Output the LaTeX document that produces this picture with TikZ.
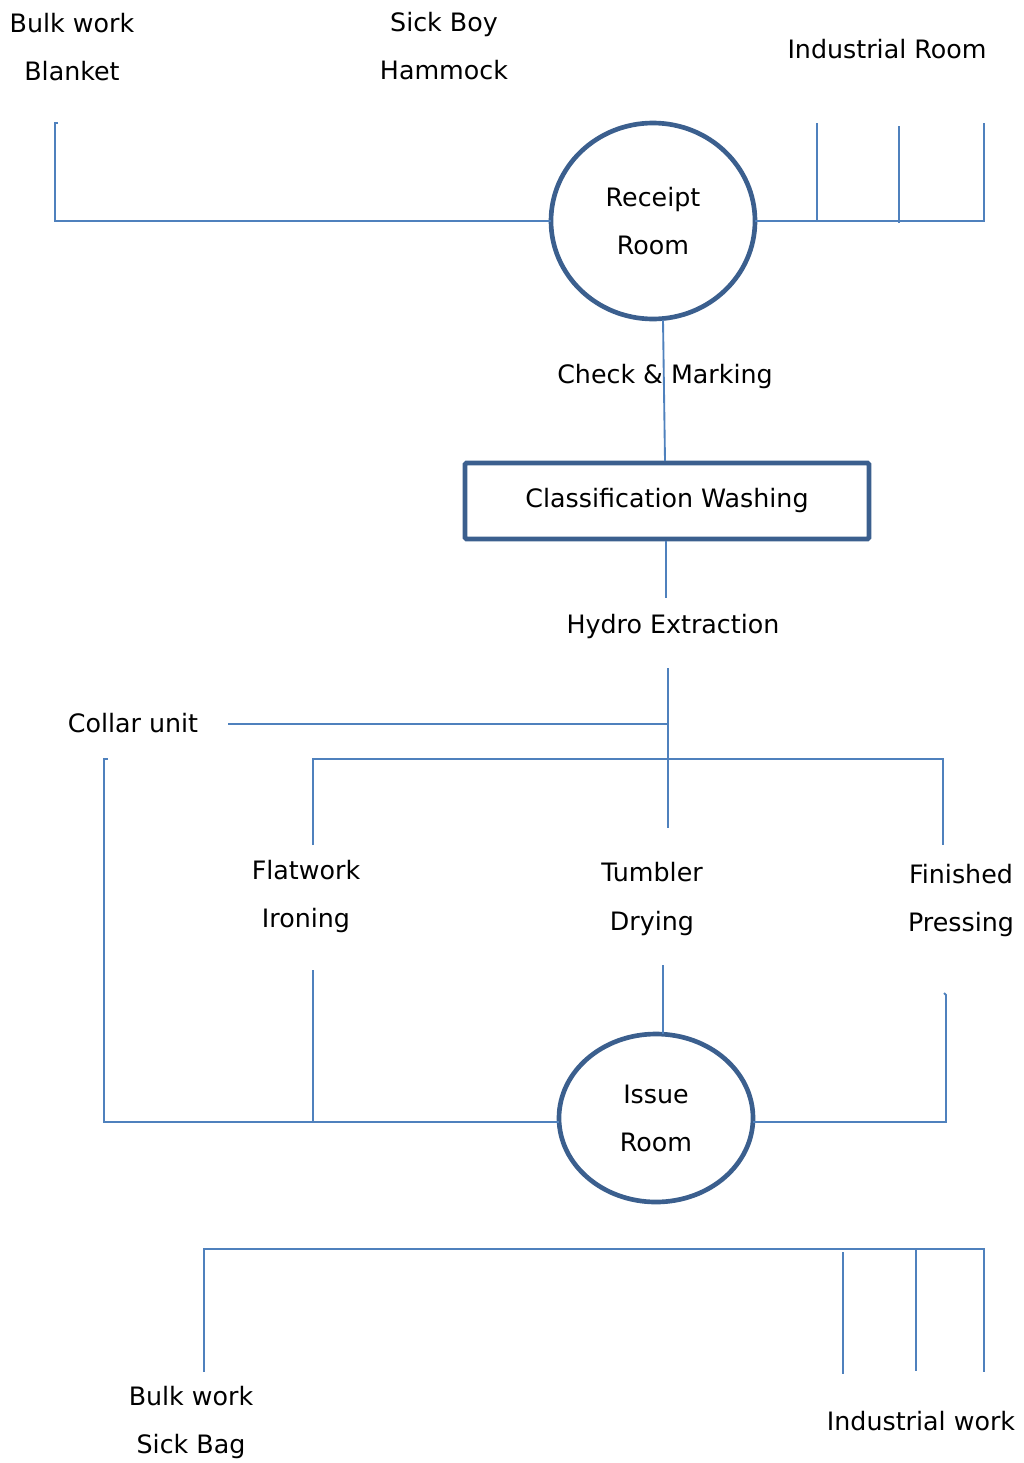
\documentclass[tikz,border=0pt]{standalone}
\usepackage{fontspec}
\setmainfont{DejaVu Sans}
\usetikzlibrary{shapes.geometric}
\definecolor{ln}{HTML}{4F81BD}
\definecolor{bd}{HTML}{3B5F8E}
\begin{document}
\begin{tikzpicture}[x=0.75pt,y=-0.75pt,
  lbl/.style={font=\fontsize{19}{36}\selectfont, align=center, inner sep=0pt},
  conn/.style={draw=ln, line width=1.4pt},
  proc/.style={ellipse, draw=bd, line width=3.5pt, inner sep=0pt, font=\fontsize{19}{36}\selectfont, align=center},
  boxst/.style={rectangle, draw=bd, line width=3.5pt, rounded corners=1pt, minimum width=303pt, minimum height=57pt, inner sep=0pt, font=\fontsize{19}{36}\selectfont}]
\useasboundingbox (0,0) rectangle (1024,1463);

% labels
\node[lbl] (bw1) at (72,47) {Bulk work\\Blanket};
\node[lbl] (sb) at (444,46) {Sick Boy\\Hammock};
\node[lbl] (ind) at (887,49) {Industrial Room};
\node[proc, minimum width=153pt, minimum height=147pt] (rr) at (653,221) {Receipt\\Room};
\node[lbl] (chk) at (665,377) {Check \& Marking};
\node[boxst] (cw) at (667,501) {\raisebox{-1.5pt}{Classification Washing}};
\node[lbl] (hx) at (673,627) {Hydro Extraction};
\node[lbl] (cu) at (133,723) {Collar unit};
\node[lbl] (fi) at (306,897) {Flatwork\\Ironing};
\node[lbl] (td) at (652,899) {Tumbler\\Drying};
\node[lbl] (fp) at (961,901) {Finished\\Pressing};
\node[proc, minimum width=145.5pt, minimum height=126pt] (ir) at (656,1118) {Issue\\Room};
\node[lbl] (bw2) at (191,1422) {Bulk work\\Sick Bag};
\node[lbl] (iw) at (921,1421) {Industrial work};

% junction points on the process shapes
\coordinate (rrw) at (551,221);
\coordinate (rre) at (755,221);
\coordinate (rrs) at (663,320);
\coordinate (irw) at (559,1122);
\coordinate (ire) at (753,1122);
\coordinate (irn) at (663,1034);

% top connectors
\draw[conn] (58,123) -- (55,123) -- (55,221) -- (rrw);
\draw[conn] (rre) -- (984,221) -- (984,123);
\draw[conn] (817,123) -- (817,221);
\draw[conn] (899,126) -- (899,223);
\draw[conn] (rrs) -- (665,461);
\draw[conn] (666,541) -- (666,598);

% middle
\draw[conn] (668,668) -- (668,828);
\draw[conn] (228,724) -- (668,724);
\draw[conn] (313,845) -- (313,759) -- (943,759) -- (943,845);
\draw[conn] (108,759) -- (104,759) -- (104,1122) -- (irw);
\draw[conn] (313,970) -- (313,1122);
\draw[conn] (663,965) -- (irn);
\draw[conn] (944,993) -- (946,995) -- (946,1122) -- (ire);

% bottom
\draw[conn] (204,1372) -- (204,1249) -- (984,1249) -- (984,1372);
\draw[conn] (843,1252) -- (843,1374);
\draw[conn] (916,1249) -- (916,1371);
\end{tikzpicture}
\end{document}
